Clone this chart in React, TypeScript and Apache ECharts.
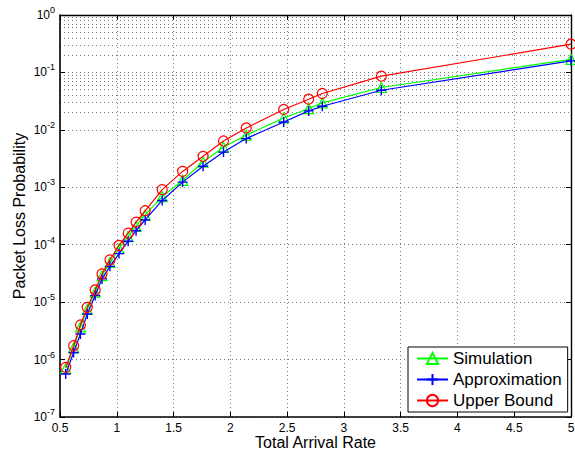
import React, { useEffect, useRef } from "react";
import * as echarts from "echarts";

const xValues = [0.55, 0.62, 0.68, 0.74, 0.81, 0.87, 0.94, 1.02, 1.10, 1.17, 1.25, 1.40, 1.58, 1.76, 1.94, 2.14, 2.47, 2.69, 2.81, 3.33, 5.0];
const simulation = [7.0e-7, 1.6e-6, 3.7e-6, 7.5e-6, 1.5e-5, 2.9e-5, 4.9e-5, 8.6e-5, 1.38e-4, 2.1e-4, 3.3e-4, 6.9e-4, 1.32e-3, 2.75e-3, 5.0e-3, 8.05e-3, 1.61e-2, 2.35e-2, 2.95e-2, 5.47e-2, 0.169];
const approximation = [5.6e-7, 1.33e-6, 2.79e-6, 6.2e-6, 1.3e-5, 2.54e-5, 4.2e-5, 7.0e-5, 1.15e-4, 1.75e-4, 2.7e-4, 5.9e-4, 1.23e-3, 2.32e-3, 4.1e-3, 7.05e-3, 1.37e-2, 2.14e-2, 2.58e-2, 4.9e-2, 0.159];
const upperBound = [7.3e-7, 1.74e-6, 4.0e-6, 8.1e-6, 1.63e-5, 3.1e-5, 5.45e-5, 9.7e-5, 1.59e-4, 2.47e-4, 3.9e-4, 9.1e-4, 1.89e-3, 3.46e-3, 6.4e-3, 1.08e-2, 2.26e-2, 3.42e-2, 4.3e-2, 8.6e-2, 0.31];
const seriesNames = ["Simulation", "Approximation", "Upper Bound"];
const decades = [-7, -6, -5, -4, -3, -2, -1];
const minorMultipliers = [2, 3, 4, 5, 6, 7, 8, 9];

const FONT = "Liberation Sans, Arial, Helvetica, sans-serif";

export default function App() {
  const ref = useRef<HTMLDivElement>(null);
  useEffect(() => {
    if (!ref.current) return;
    const chart = echarts.init(ref.current, undefined, { renderer: "svg" });
    const minorValues: number[] = [];
    decades.forEach((d) => minorMultipliers.forEach((m) => minorValues.push(m * Math.pow(10, d))));
    const gridLine = { color: "#7a7a7a", type: [1, 3] as any, width: 1 };
    const pair = (ys: number[]) => xValues.map((x, i) => [x, ys[i]]);
    const option: any = {
      animation: false,
      backgroundColor: "#fff",
      textStyle: { fontFamily: FONT },
      grid: { left: 60, right: 4, top: 15, bottom: 35, show: false, outerBoundsMode: "none", containLabel: false },
      legend: {
        left: 408,
        top: 347,
        orient: "vertical",
        data: seriesNames,
        itemWidth: 31,
        itemHeight: 14,
        itemGap: 4,
        padding: [3, 6, 3, 8],
        backgroundColor: "#fff",
        borderColor: "#000",
        borderWidth: 1,
        borderRadius: 0,
        textStyle: { fontSize: 17, color: "#000", fontFamily: FONT },
      },
      xAxis: [
        {
          type: "value",
          min: 0.5,
          max: 5,
          interval: 0.5,
          name: "Total Arrival Rate",
          nameLocation: "middle",
          nameGap: 18,
          nameMoveOverlap: false,
          nameTextStyle: { fontSize: 16, lineHeight: 15, color: "#000", fontFamily: FONT },
          axisLine: { show: true, lineStyle: { color: "#000", width: 1.6 } },
          axisTick: { show: true, inside: true, length: 5, lineStyle: { color: "#000" } },
          axisLabel: { fontSize: 12, lineHeight: 13, color: "#000", margin: 4, fontFamily: FONT },
          splitLine: { show: true, lineStyle: gridLine },
        },
        {
          type: "value",
          position: "top",
          min: 0.5,
          max: 5,
          interval: 0.5,
          axisLine: { show: true, onZero: false, lineStyle: { color: "#000", width: 1.4 } },
          axisTick: { show: true, inside: true, length: 5, lineStyle: { color: "#000" } },
          axisLabel: { show: false },
          splitLine: { show: false },
        },
      ],
      yAxis: [
        {
          type: "log",
          logBase: 10,
          min: 1e-7,
          max: 1,
          name: "Packet Loss Probability",
          nameLocation: "middle",
          nameGap: 33,
          nameMoveOverlap: false,
          nameTextStyle: { fontSize: 16, color: "#000", fontFamily: FONT },
          axisLine: { show: true, lineStyle: { color: "#000", width: 1.6 } },
          axisTick: { show: true, inside: true, length: 5, lineStyle: { color: "#000" } },
          axisLabel: {
            margin: 5,
            color: "#000",
            formatter: (v: number) => "{b|10}{s|" + Math.round(Math.log10(v)) + "}",
            rich: {
              b: { fontSize: 12, color: "#000", fontFamily: FONT },
              s: { fontSize: 9, color: "#000", fontFamily: FONT, padding: [0, 0, 10, 0] },
            },
          },
          splitLine: { show: true, lineStyle: gridLine },
        },
        {
          type: "log",
          logBase: 10,
          position: "right",
          min: 1e-7,
          max: 1,
          axisLine: { show: true, onZero: false, lineStyle: { color: "#000", width: 1.4 } },
          axisTick: { show: true, inside: true, length: 5, lineStyle: { color: "#000" } },
          axisLabel: { show: false },
          splitLine: { show: false },
        },
      ],
      series: [
        {
          name: "Simulation",
          type: "line",
          data: pair(simulation),
          symbol: "triangle",
          symbolSize: 10,
          lineStyle: { color: "#00ff00", width: 1.2 },
          itemStyle: { color: "rgba(0,0,0,0)", borderColor: "#00ff00", borderWidth: 1.2 },
          markLine: {
            silent: true,
            symbol: ["none", "none"],
            label: { show: false },
            lineStyle: gridLine,
            data: minorValues.map((v) => ({ yAxis: v })),
            z: 0,
          },
          z: 3,
        },
        {
          name: "Approximation",
          type: "line",
          data: pair(approximation),
          symbol: "path://M5,0L5,10M0,5L10,5",
          symbolSize: 10,
          lineStyle: { color: "#0000ff", width: 1.2 },
          itemStyle: { color: "rgba(0,0,0,0)", borderColor: "#0000ff", borderWidth: 1.4 },
          z: 4,
        },
        {
          name: "Upper Bound",
          type: "line",
          data: pair(upperBound),
          symbol: "circle",
          symbolSize: 10,
          lineStyle: { color: "#ff0000", width: 1.2 },
          itemStyle: { color: "rgba(0,0,0,0)", borderColor: "#ff0000", borderWidth: 1.2 },
          z: 5,
        },
      ],
    };
    chart.setOption(option);
    return () => chart.dispose();
  }, []);
  return (
    <div
      ref={ref}
      style={{ position: "fixed", left: 0, top: 0, width: 575, height: 452, background: "#fff" }}
    />
  );
}
